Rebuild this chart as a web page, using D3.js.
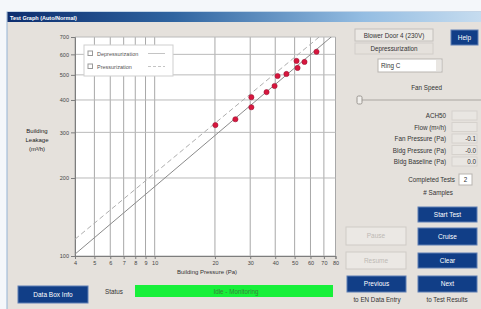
<!DOCTYPE html>
<html>
<head>
<meta charset="utf-8">
<script src="https://cdn.jsdelivr.net/npm/d3@7/dist/d3.min.js"></script>
<style>
  body { margin: 0; background: #f4f7fa; }
  text { font-family: "Liberation Sans", Arial, sans-serif; }
</style>
</head>
<body>
<div id="test-graph"></div>
<script>
/* blower door test graph, log-log leakage vs pressure */

// chart data
const xTicks = [4, 5, 6, 7, 8, 9, 10, 20, 30, 40, 50, 60, 70, 80];
const yTicks = [100, 200, 300, 400, 500, 600, 700];
const depPressure = [25.3, 30.4, 36.2, 39.7, 45.5, 51.7, 56.0, 64.3];
const depFlow = [337, 375, 429, 453, 504, 532, 561, 614];
const presPressure = [20.1, 30.4, 41.1, 51.1];
const presFlow = [320, 410, 495, 566];
const fitNames = ["Depressurization", "Pressurization"];
const fitC = [41, 47.8];
const fitN = [0.655, 0.64];
const readoutLabels = ["ACH50", "Flow (m³/h)", "Fan Pressure (Pa)", "Bldg Pressure (Pa)", "Bldg Baseline (Pa)"];
const readoutValues = ["", "", "-0.1", "-0.0", "0.0"];

const W = 481, H = 309;
let svg = d3.select('#test-graph')
  .append('svg')
  .attr('width', W)
  .attr('height', H);

// window frame + title bar
svg.append('rect').attr('width', W).attr('height', H).attr('fill', '#f4f7fa');
svg.append('rect')
  .attr('x', 7).attr('y', 12).attr('width', 480).attr('height', 300)
  .attr('fill', '#e5e1dc').attr('stroke', '#93b4d4');

const grad = svg.append('defs').append('linearGradient').attr('id', 'tb');
grad.append('stop').attr('offset', '0%').attr('stop-color', '#0c2d6e');
grad.append('stop').attr('offset', '35%').attr('stop-color', '#2f64a0');
grad.append('stop').attr('offset', '75%').attr('stop-color', '#94bde2');
grad.append('stop').attr('offset', '100%').attr('stop-color', '#c6dcef');
svg.append('rect')
  .attr('x', 7.5).attr('y', 12).attr('width', 474).attr('height', 10)
  .attr('fill', 'url(#tb)');
svg.append('text')
  .attr('x', 10).attr('y', 19.5)
  .style('font-size', '5.5px').style('font-weight', 'bold')
  .attr('fill', '#fff')
  .text('Test Graph (Auto/Normal)');

// scales
const xScale = d3.scaleLog().domain([4, 80]).range([75, 335.5]);
const yScale = d3.scaleLog().domain([100, 700]).range([256, 37]);

// plot area
svg.append('rect')
  .attr('x', 75).attr('y', 37)
  .attr('width', 335.5 - 75).attr('height', 256 - 37)
  .attr('fill', '#fff');

svg.append('clipPath').attr('id', 'plotclip')
  .append('rect')
  .attr('x', 75).attr('y', 37)
  .attr('width', 335.5 - 75).attr('height', 256 - 37);

// grid
svg.append('g').selectAll('line')
  .data(xTicks).enter().append('line')
  .attr('x1', d => xScale(d)).attr('x2', d => xScale(d))
  .attr('y1', 37).attr('y2', 256)
  .attr('stroke', '#a8a8a8').attr('stroke-width', 1);
svg.append('g').selectAll('line')
  .data(yTicks).enter().append('line')
  .attr('y1', d => yScale(d)).attr('y2', d => yScale(d))
  .attr('x1', 75).attr('x2', 335.5)
  .attr('stroke', '#bababa').attr('stroke-width', 1);

// axes
const xAxis = svg.append('g')
  .attr('transform', 'translate(0,256)')
  .call(d3.axisBottom(xScale).tickValues(xTicks).tickFormat(d3.format('d')).tickSize(3).tickPadding(2));
const yAxis = svg.append('g')
  .attr('transform', 'translate(75,0)')
  .call(d3.axisLeft(yScale).tickValues(yTicks).tickFormat(d3.format('d')).tickSize(4).tickPadding(2));
[xAxis, yAxis].forEach(a => {
  a.select('.domain').attr('stroke', '#7d7d7d');
  a.selectAll('line').attr('stroke', '#7d7d7d');
  a.selectAll('text').style('font-size', '5.5px').attr('fill', '#444');
});

// axis labels
svg.append('text')
  .attr('x', 207).attr('y', 274)
  .attr('text-anchor', 'middle')
  .style('font-size', '6px').attr('fill', '#333')
  .text('Building Pressure (Pa)');
svg.append('text')
  .attr('x', 37).attr('y', 133)
  .attr('text-anchor', 'middle')
  .style('font-size', '6px').attr('fill', '#222')
  .selectAll('tspan')
  .data(['Building', 'Leakage', '(m³/h)']).enter().append('tspan')
  .attr('x', 37).attr('dy', (d, i) => i ? 9 : 0)
  .text(d => d);

// fit lines
const fitG = svg.append('g').attr('clip-path', 'url(#plotclip)');
fitNames.forEach((name, i) => {
  const line = d3.line()
    .x(p => xScale(p))
    .y(p => yScale(fitC[i] * Math.pow(p, fitN[i])));
  fitG.append('path')
    .datum(xScale.domain())
    .attr('fill', 'none')
    .attr('stroke', i ? '#adadad' : '#8a8a8a')
    .attr('stroke-width', 1)
    .attr('stroke-dasharray', i ? '5,3' : null)
    .attr('d', line);
});

// points
const pts = depPressure.map((p, i) => ({ p: p, q: depFlow[i] }))
  .concat(presPressure.map((p, i) => ({ p: p, q: presFlow[i] })));
svg.append('g').selectAll('circle')
  .data(pts).enter().append('circle')
  .attr('cx', d => xScale(d.p))
  .attr('cy', d => yScale(d.q))
  .attr('r', 2.6)
  .attr('fill', '#d8163d')
  .attr('stroke', '#9a1838')
  .attr('stroke-width', 0.6);

// legend
svg.append('rect')
  .attr('x', 84).attr('y', 45).attr('width', 89).attr('height', 31)
  .attr('fill', '#fff').attr('stroke', '#cfcfcf');
fitNames.forEach((name, i) => {
  const ly = 53.5 + i * 13;
  svg.append('rect')
    .attr('x', 88).attr('y', ly - 2.5).attr('width', 4.5).attr('height', 4.5)
    .attr('fill', '#fff').attr('stroke', '#999');
  svg.append('text')
    .attr('x', 97).attr('y', ly + 2)
    .style('font-size', '5.5px').attr('fill', '#555')
    .text(name);
  svg.append('line')
    .attr('x1', 148).attr('x2', 165).attr('y1', ly).attr('y2', ly)
    .attr('stroke', '#c4c4c4')
    .attr('stroke-dasharray', i ? '3,2' : null);
});

// buttons
function button(x, y, w, h, label, enabled) {
  svg.append('rect')
    .attr('x', x).attr('y', y).attr('width', w).attr('height', h)
    .attr('fill', enabled ? '#113e87' : '#ebe8e4')
    .attr('stroke', enabled ? '#5f7fb3' : '#cfcbc6');
  svg.append('text')
    .attr('x', x + w / 2).attr('y', y + h / 2 + 2.2)
    .attr('text-anchor', 'middle')
    .style('font-size', '6.5px')
    .attr('fill', enabled ? '#fff' : '#bdb9b4')
    .text(label);
}
button(18, 286, 70, 17, 'Data Box Info', true);
button(451, 30, 27, 15, 'Help', true);
button(418, 207, 59, 15, 'Start Test', true);
button(346, 227, 60, 18, 'Pause', false);
button(418, 228, 59, 17, 'Cruise', true);
button(346, 252, 60, 17, 'Resume', false);
button(418, 253, 59, 15, 'Clear', true);
button(347, 276, 59, 16, 'Previous', true);
button(418, 276, 59, 16, 'Next', true);

function smallText(x, y, s, anchor, color) {
  svg.append('text')
    .attr('x', x).attr('y', y)
    .attr('text-anchor', anchor || 'start')
    .style('font-size', '6.3px')
    .attr('fill', color || '#333')
    .text(s);
}
smallText(377, 302, 'to EN Data Entry', 'middle');
smallText(447, 302, 'to Test Results', 'middle');

// status bar
smallText(105, 294, 'Status');
svg.append('rect')
  .attr('x', 135).attr('y', 285).attr('width', 198).attr('height', 12)
  .attr('fill', '#17f03a');
smallText(236, 293.5, 'Idle - Monitoring', 'middle', '#3d7f3d');

// right panel
svg.append('rect')
  .attr('x', 355).attr('y', 29).attr('width', 78).attr('height', 12)
  .attr('fill', '#ece9e5').attr('stroke', '#c4c0bb');
smallText(394, 37.5, 'Blower Door 4 (230V)', 'middle');
svg.append('rect')
  .attr('x', 355).attr('y', 43).attr('width', 78).attr('height', 11)
  .attr('fill', 'none').attr('stroke', '#d2cec9');
smallText(394, 51, 'Depressurization', 'middle');
svg.append('rect')
  .attr('x', 378).attr('y', 59).attr('width', 64).attr('height', 13)
  .attr('fill', '#fff').attr('stroke', '#b9b5b0');
smallText(381, 68, 'Ring C');
svg.append('rect')
  .attr('x', 436).attr('y', 60).attr('width', 5).attr('height', 11)
  .attr('fill', '#e9e6e2');
smallText(442, 90, 'Fan Speed', 'end');

// fan speed slider
svg.append('line')
  .attr('x1', 357).attr('x2', 481).attr('y1', 100).attr('y2', 100)
  .attr('stroke', '#a9a5a0');
svg.append('rect')
  .attr('x', 357).attr('y', 96).attr('width', 5).attr('height', 8).attr('rx', 1.5)
  .attr('fill', '#f1efec').attr('stroke', '#9a9691');

// readouts
readoutLabels.forEach((lab, i) => {
  const ry = 118 + i * 11.5;
  smallText(446, ry, lab, 'end');
  svg.append('rect')
    .attr('x', 452).attr('y', ry - 7).attr('width', 25).attr('height', 9)
    .attr('fill', '#e9e6e2').attr('stroke', '#d6d2cd');
  smallText(476, ry, readoutValues[i], 'end');
});
smallText(455, 182, 'Completed Tests', 'end');
svg.append('rect')
  .attr('x', 459).attr('y', 174).attr('width', 13).attr('height', 11)
  .attr('fill', '#fff').attr('stroke', '#b9b5b0');
smallText(465.5, 182, '2', 'middle');
smallText(453, 195, '# Samples', 'end');
</script>
</body>
</html>
